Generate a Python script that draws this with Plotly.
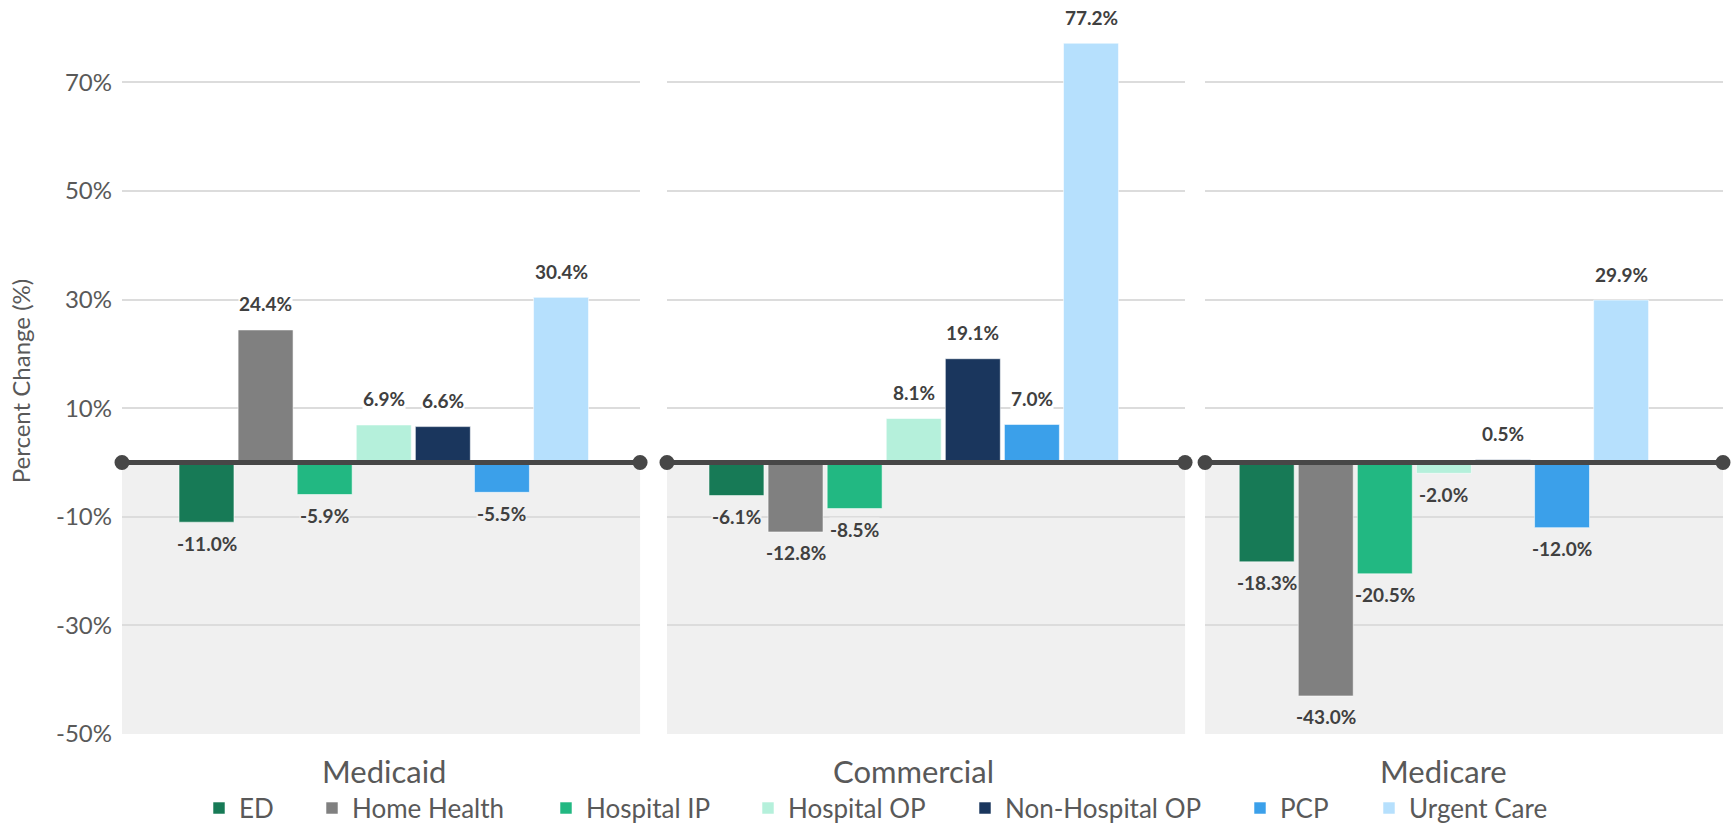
import plotly.graph_objects as go

# --- data ---------------------------------------------------------------
payers = ["Medicaid", "Commercial", "Medicare"]
services = ["ED", "Home Health", "Hospital IP", "Hospital OP",
            "Non-Hospital OP", "PCP", "Urgent Care"]
service_colors = ["#177A56", "#808080", "#22B882", "#B5F0DB",
                  "#1A365D", "#3BA0EA", "#B6E0FD"]

medicaid = [-11.0, 24.4, -5.9, 6.9, 6.6, -5.5, 30.4]
commercial = [-6.1, -12.8, -8.5, 8.1, 19.1, 7.0, 77.2]
medicare = [-18.3, -43.0, -20.5, -2.0, 0.5, -12.0, 29.9]
payer_values = [medicaid, commercial, medicare]

y_ticks = [-50, -30, -10, 10, 30, 50, 70]
y_tick_text = [f"{t}%" for t in y_ticks]
y_range = [-50, 80]

# --- layout constants ---------------------------------------------------
FONT = "Lato"
TEXT_GREY = "#595959"
LABEL_GREY = "#404040"
SHADE = "#F0F0F0"
AXIS_DARK = "#474747"

W, H = 1732, 823
M_L, M_R, M_T, M_B = 122, 9, 28, 89
PLOT_W = W - M_L - M_R

domains = [[0.0, 0.3236], [0.3404, 0.6640], [0.6765, 1.0]]
x_ranges = [[-1.43, 7.338], [-1.176, 7.592], [-1.043, 7.725]]

# left edge (px) of each legend entry, spaced like a wide horizontal key
legend_left_px = [199, 312, 546, 748, 965, 1240, 1369]

fig = go.Figure()

# bars: one trace per service and panel, each service keyed once
for p, values in enumerate(payer_values):
    xa = "x" if p == 0 else f"x{p + 1}"
    ya = "y" if p == 0 else f"y{p + 1}"
    for i, (svc, col) in enumerate(zip(services, service_colors)):
        fig.add_trace(go.Bar(
            x=[i], y=[values[i]], name=svc,
            marker=dict(color=col, line=dict(color="rgba(255,255,255,0.55)", width=1)),
            width=0.93, xaxis=xa, yaxis=ya,
            legend="legend" if i == 0 else f"legend{i + 1}",
            legendgroup=svc, showlegend=(p == 0),
            hovertemplate=f"{payers[p]} – {svc}: %{{y:.1f}}%<extra></extra>",
        ))

shapes = []
annotations = []
for p, values in enumerate(payer_values):
    xa = "x" if p == 0 else f"x{p + 1}"
    ya = "y" if p == 0 else f"y{p + 1}"
    # shaded negative region
    shapes.append(dict(type="rect", xref=f"{xa} domain", yref=ya,
                       x0=0, x1=1, y0=y_range[0], y1=0,
                       fillcolor=SHADE, line=dict(width=0), layer="below"))
    # zero baseline with end dots
    shapes.append(dict(type="line", xref=f"{xa} domain", yref=ya,
                       x0=0, x1=1, y0=0, y1=0,
                       line=dict(color=AXIS_DARK, width=5), layer="above"))
    for end in (0, 1):
        shapes.append(dict(type="circle", xref=f"{xa} domain", yref=ya,
                           xsizemode="pixel", ysizemode="pixel",
                           xanchor=end, yanchor=0,
                           x0=-7.5, x1=7.5, y0=-7.5, y1=7.5,
                           fillcolor=AXIS_DARK, line=dict(width=0),
                           layer="above"))
    # value labels
    for i, v in enumerate(values):
        pos = v >= 0
        annotations.append(dict(
            x=i, y=v, xref=xa, yref=ya, text=f"{v:.1f}%",
            showarrow=False, yanchor="middle",
            yshift=26 if pos else -21,
            bgcolor="white" if pos else SHADE, borderpad=0,
            font=dict(family=FONT, size=19, color=LABEL_GREY, weight=700),
        ))
    # payer label under the bar group
    annotations.append(dict(
        x=3, y=-0.052, xref=xa, yref="paper", text=payers[p],
        showarrow=False, yanchor="middle", xanchor="center",
        font=dict(family=FONT, size=31, color=TEXT_GREY),
    ))

layout = dict(
    width=W, height=H,
    margin=dict(l=M_L, r=M_R, t=M_T, b=M_B, autoexpand=False),
    paper_bgcolor="white", plot_bgcolor="white",
    font=dict(family=FONT, color=TEXT_GREY),
    barmode="overlay",
    showlegend=True,
    shapes=shapes, annotations=annotations,
)

for k, left in enumerate(legend_left_px):
    key = "legend" if k == 0 else f"legend{k + 1}"
    layout[key] = dict(orientation="h", x=(left - M_L) / PLOT_W, xanchor="left",
                       y=-0.105, yanchor="middle",
                       font=dict(family=FONT, size=26, color=TEXT_GREY),
                       bgcolor="rgba(0,0,0,0)", borderwidth=0)

for p in range(3):
    xkey = "xaxis" if p == 0 else f"xaxis{p + 1}"
    ykey = "yaxis" if p == 0 else f"yaxis{p + 1}"
    layout[xkey] = dict(domain=domains[p], range=x_ranges[p],
                        anchor="y" if p == 0 else f"y{p + 1}",
                        showgrid=False, zeroline=False, showline=False,
                        showticklabels=False, ticks="", fixedrange=True)
    ydict = dict(range=y_range, tickmode="array", tickvals=y_ticks,
                 ticktext=y_tick_text,
                 showgrid=True, gridcolor="#DCDCDC", gridwidth=2,
                 zeroline=False, showline=False, ticks="",
                 anchor="x" if p == 0 else f"x{p + 1}", fixedrange=True)
    if p == 0:
        ydict.update(showticklabels=True,
                     tickfont=dict(family=FONT, size=24, color=TEXT_GREY),
                     ticklabelstandoff=9,
                     title=dict(text="Percent Change (%)", standoff=18,
                                font=dict(family=FONT, size=24, color=TEXT_GREY)))
    else:
        ydict.update(showticklabels=False, matches="y")
    layout[ykey] = ydict

fig.update_layout(**layout)
fig.write_html("out.html")
